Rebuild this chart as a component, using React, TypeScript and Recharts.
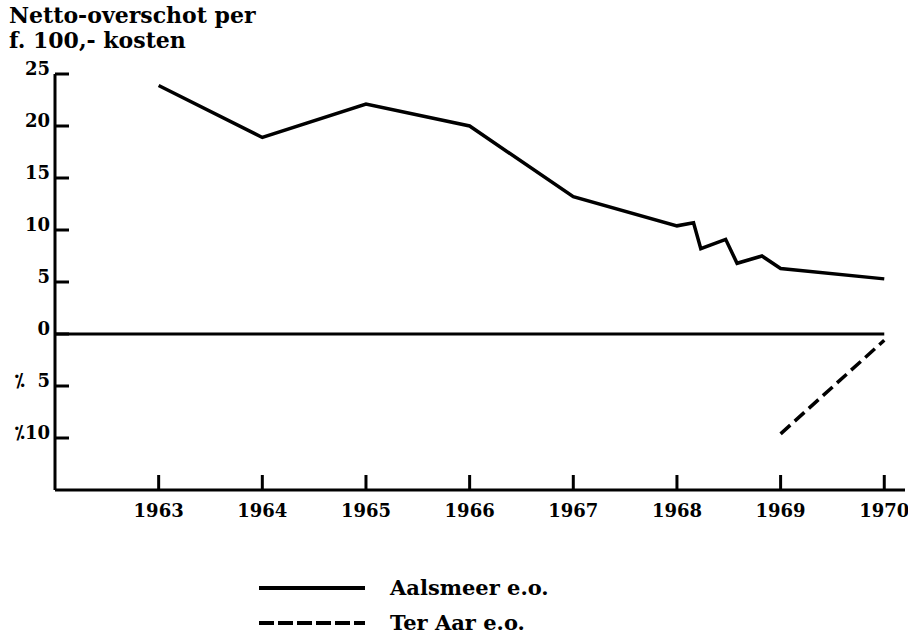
import React from 'react';
import { LineChart, Line, XAxis, YAxis, ReferenceLine, Legend } from 'recharts';

const titleLines = ['Netto-overschot per', 'f. 100,- kosten'];
const seriesNames = ['Aalsmeer e.o.', 'Ter Aar e.o.'];

const aalsmeerYears = [1963, 1964, 1965, 1966, 1967, 1968, 1968.16, 1968.23, 1968.47, 1968.58, 1968.82, 1969, 1970];
const aalsmeerValues = [23.9, 18.9, 22.1, 20.0, 13.2, 10.4, 10.7, 8.2, 9.1, 6.8, 7.5, 6.3, 5.3];

const terAarYears = [1969, 1970];
const terAarValues = [-9.6, -0.6];

const yearTicks = [1963, 1964, 1965, 1966, 1967, 1968, 1969, 1970];
const valueTicks = [25, 20, 15, 10, 5, 0, -5, -10];

const aalsmeerData = aalsmeerYears.map((year, i) => ({ year, value: aalsmeerValues[i] }));
const terAarData = terAarYears.map((year, i) => ({ year, value: terAarValues[i] }));

const FONT = '"DejaVu Serif", serif';
const dashes = [undefined, '15 4'];

const formatValue = (v: number) => {
  if (v < 0) {
    const a = Math.abs(v);
    return '\u2052' + (a < 10 ? '\u00A0\u00A0' : '') + a;
  }
  return String(v);
};

const YTick = (props: any) => {
  const { x, y, payload } = props;
  return (
    <g>
      <line x1={x} y1={y} x2={x + 14} y2={y} stroke="#000" strokeWidth={3} />
      <text x={x - 5} y={y + 1} textAnchor="end" fontFamily={FONT} fontWeight="bold" fontSize={18} fill="#000">
        {formatValue(payload.value)}
      </text>
    </g>
  );
};

const XTick = (props: any) => {
  const { x, y, payload } = props;
  return (
    <g>
      <line x1={x} y1={y} x2={x} y2={y - 15} stroke="#000" strokeWidth={3} />
      <text x={x} y={y + 27} textAnchor="middle" fontFamily={FONT} fontWeight="bold" fontSize={18} fill="#000">
        {payload.value}
      </text>
    </g>
  );
};

const LegendContent = (props: any) => {
  const payload = props.payload || [];
  return (
    <div>
      {payload.map((entry: any, i: number) => (
        <div key={i} style={{ display: 'flex', alignItems: 'center', height: 35 }}>
          <svg width={106} height={8} style={{ display: 'block' }}>
            <line x1={0} y1={4} x2={106} y2={4} stroke="#000" strokeWidth={4} strokeDasharray={dashes[i]} />
          </svg>
          <span style={{ marginLeft: 25, fontFamily: FONT, fontWeight: 'bold', fontSize: 21, color: '#000', whiteSpace: 'nowrap' }}>
            {entry.value}
          </span>
        </div>
      ))}
    </div>
  );
};

export default function App() {
  return (
    <div style={{ position: 'absolute', left: 0, top: 0, width: 908, height: 642, background: '#fff' }}>
      <div style={{ position: 'absolute', left: 9, top: 3, fontFamily: FONT, fontWeight: 'bold', fontSize: 22, lineHeight: '25px', color: '#000', whiteSpace: 'nowrap' }}>
        {titleLines.map((t, i) => (
          <div key={i}>{t}</div>
        ))}
      </div>
      <LineChart width={908} height={642} margin={{ top: 74, right: 3, bottom: 122, left: 5 }}>
        <XAxis
          type="number"
          dataKey="year"
          domain={[1962, 1970.2]}
          ticks={yearTicks}
          allowDataOverflow
          height={30}
          tickSize={0}
          tickMargin={0}
          tickLine={false}
          axisLine={{ stroke: '#000', strokeWidth: 3 }}
          tick={<XTick />}
        />
        <YAxis
          type="number"
          domain={[-15, 25]}
          ticks={valueTicks}
          allowDataOverflow
          width={50}
          tickSize={0}
          tickMargin={0}
          tickLine={false}
          axisLine={{ stroke: '#000', strokeWidth: 3 }}
          tick={<YTick />}
        />
        <ReferenceLine
          segment={[{ x: 1962, y: 0 }, { x: 1970, y: 0 }]}
          stroke="#000"
          strokeWidth={3}
        />
        <Line
          data={aalsmeerData}
          dataKey="value"
          name={seriesNames[0]}
          stroke="#000"
          strokeWidth={3.5}
          dot={false}
          activeDot={false}
          type="linear"
          isAnimationActive={false}
        />
        <Line
          data={terAarData}
          dataKey="value"
          name={seriesNames[1]}
          stroke="#000"
          strokeWidth={3.5}
          strokeDasharray="13 6"
          dot={false}
          activeDot={false}
          type="linear"
          isAnimationActive={false}
        />
        <Legend
          layout="vertical"
          align="center"
          verticalAlign="middle"
          content={<LegendContent />}
          wrapperStyle={{ position: 'absolute', left: 259, top: 570, width: 360, height: 72 }}
        />
      </LineChart>
    </div>
  );
}
